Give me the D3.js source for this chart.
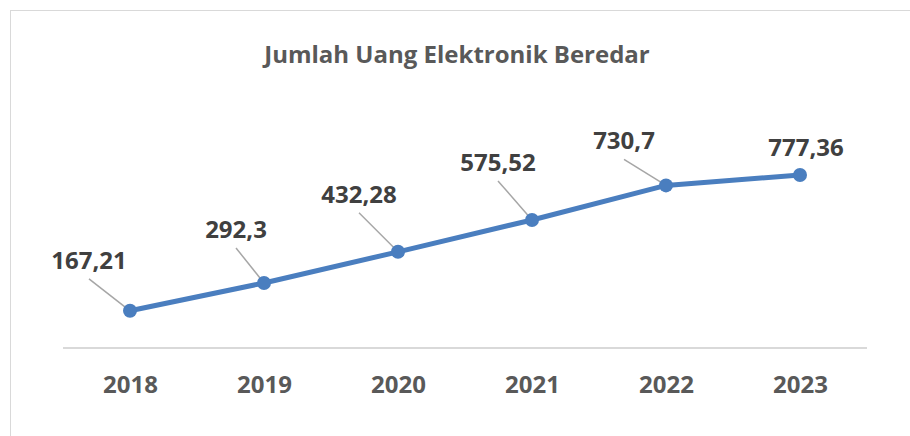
<!DOCTYPE html>
<html>
<head>
<meta charset="utf-8">
<script src="https://cdn.jsdelivr.net/npm/d3@7"></script>
<style>
  body { margin: 0; background: #fff; }
  svg { display: block; font-family: 'Open Sans', sans-serif; }
</style>
</head>
<body>
<svg id="svg" width="910" height="436"></svg>
<script>
const years = ['2018', '2019', '2020', '2021', '2022', '2023']
const values = [167.21, 292.3, 432.28, 575.52, 730.7, 777.36]
const labels = ['167,21', '292,3', '432,28', '575,52', '730,7', '777,36']

// manual label placement, like the excel original (dx, dy from the point)
const LABEL_OFF = [[-41, -42], [-28, -45], [-39, -49], [-34, -49], [-42, -36], [6, -19]]

const BASE_Y = 348
const LEFT = 63
const RIGHT = 867
const BLUE = '#4a7ebf'

const svg = d3.select('svg')

// chart frame
svg.append('rect')
  .attr('x', 10.5).attr('y', 10.5)
  .attr('width', 920).attr('height', 440)
  .attr('fill', 'none')
  .attr('stroke', '#d9d9d9')
  .attr('stroke-width', 1)

svg.append('text')
  .attr('x', 457).attr('y', 63)
  .attr('text-anchor', 'middle')
  .attr('font-size', 24)
  .attr('font-weight', 700)
  .attr('fill', '#595959')
  .text('Jumlah Uang Elektronik Beredar')

const x = d3.scalePoint().domain(years).range([LEFT, RIGHT]).padding(0.5)
const y = d3.scaleLinear().domain([0, 800]).range([BASE_Y, 170])

// x axis
const ax = svg.append('g')
  .attr('transform', 'translate(0,' + BASE_Y + ')')
  .call(d3.axisBottom(x).tickSize(0).tickPadding(0))
ax.select('.domain').attr('stroke', '#d9d9d9').attr('stroke-width', 2)
  .attr('d', 'M' + LEFT + ',0H' + RIGHT)
ax.selectAll('text')
  .attr('y', 45)
  .attr('dy', null)
  .attr('font-size', 24)
  .attr('font-weight', 700)
  .attr('font-family', "'Open Sans', sans-serif")
  .attr('fill', '#595959')

const pts = years.map((d, i) => ({ yr: d, v: values[i], lab: labels[i], off: LABEL_OFF[i] }))

// leader lines
svg.selectAll('line.leader')
  .data(pts.filter((d, i) => i < pts.length - 1))
  .join('line')
  .attr('class', 'leader')
  .attr('x1', d => x(d.yr) + d.off[0])
  .attr('y1', d => y(d.v) + d.off[1] + 10)
  .attr('x2', d => x(d.yr))
  .attr('y2', d => y(d.v))
  .attr('stroke', '#a6a6a6')
  .attr('stroke-width', 1.5)

const line = d3.line().x(d => x(d.yr)).y(d => y(d.v))
svg.append('path')
  .datum(pts)
  .attr('d', line)
  .attr('fill', 'none')
  .attr('stroke', BLUE)
  .attr('stroke-width', 5)
  .attr('stroke-linejoin', 'round')

svg.selectAll('circle.pt')
  .data(pts)
  .join('circle')
  .attr('class', 'pt')
  .attr('cx', d => x(d.yr))
  .attr('cy', d => y(d.v))
  .attr('r', 7)
  .attr('fill', BLUE)

svg.selectAll('text.lab')
  .data(pts)
  .join('text')
  .attr('class', 'lab')
  .attr('x', d => x(d.yr) + d.off[0])
  .attr('y', d => y(d.v) + d.off[1])
  .attr('text-anchor', 'middle')
  .attr('font-size', 24)
  .attr('font-weight', 700)
  .attr('fill', '#404040')
  .text(d => d.lab)
</script>
</body>
</html>
